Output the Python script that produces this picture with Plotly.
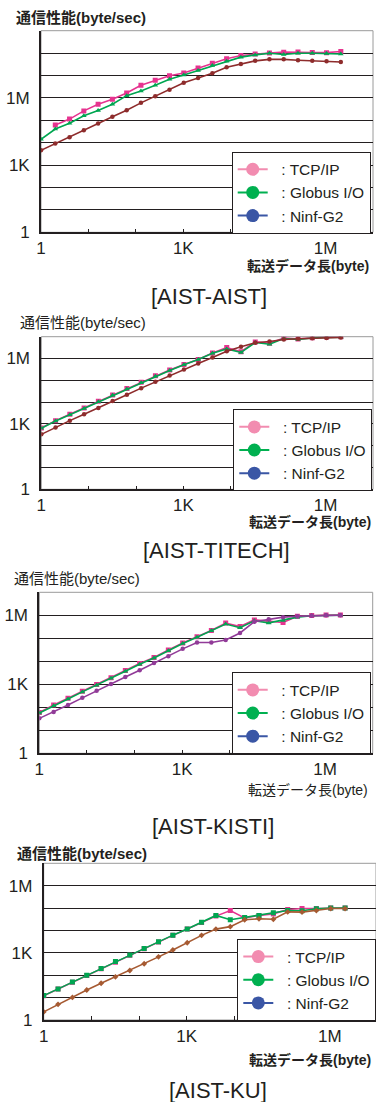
import plotly.graph_objects as go

# ---------------- data ----------------
sizes = [1, 2, 4, 8, 16, 32, 64, 128, 256, 512, 1024, 2048, 4096, 8192,
         16384, 32768, 65536, 131072, 262144, 524288, 1048576, 2097152]

# [AIST-AIST]  (TCP/IP starts at 2 bytes)
aist_tcp = [6.1e4, 1.13e5, 2.63e5, 5.25e5, 8.7e5, 1.66e6, 3.63e6, 6.1e6, 9.8e6,
            1.29e7, 2.14e7, 3.55e7, 5.6e7, 7.8e7, 9.1e7, 1.0e8, 1.1e8, 1.12e8,
            1.07e8, 1.05e8, 1.17e8]
aist_globus = [1.41e4, 4.07e4, 7.4e4, 1.58e5, 2.75e5, 5.25e5, 1.26e6, 2.04e6,
               3.63e6, 6.76e6, 1.05e7, 1.66e7, 2.82e7, 4.37e7, 6.6e7, 8.3e7,
               9.8e7, 8.7e7, 9.8e7, 9.8e7, 9.55e7, 9.1e7]
aist_ninf = [4.57e3, 9.3e3, 1.74e4, 3.63e4, 7.2e4, 1.45e5, 2.82e5, 6.0e5,
             1.17e6, 2.34e6, 4.7e6, 7.8e6, 1.26e7, 2.34e7, 3.3e7, 4.5e7,
             5.25e7, 5.25e7, 4.8e7, 4.5e7, 4.3e7, 4.0e7]

# [AIST-TITECH]
titech_tcp = [646, 1413, 2750, 5370, 1.1e4, 2.14e4, 4.17e4, 8.1e4, 1.62e5,
              2.95e5, 5.25e5, 9.1e5, 1.78e6, 3.16e6, 2.04e6, 5.75e6, 5.0e6,
              8.7e6, 7.9e6, 8.9e6, 9.8e6, 1.0e7]
titech_globus = [631, 1349, 2630, 5130, 1.05e4, 2.04e4, 3.98e4, 7.76e4, 1.55e5,
                 2.82e5, 5.13e5, 8.9e5, 1.74e6, 2.75e6, 1.9e6, 5.4e6, 4.5e6,
                 8.3e6, 7.4e6, 8.7e6, 9.3e6, 9.5e6]
titech_ninf = [331, 692, 1413, 2750, 5370, 1.12e4, 2.19e4, 4.37e4, 8.5e4,
               1.66e5, 3.16e5, 5.9e5, 1.12e6, 2.14e6, 3.47e6, 5.25e6, 6.0e6,
               7.4e6, 8.1e6, 8.5e6, 8.7e6, 9.3e6]

# [AIST-KISTI]
kisti_tcp = [59, 126, 245, 501, 977, 1950, 3980, 7940, 1.48e4, 3.09e4, 6.3e4,
             1.17e5, 2.19e5, 4.57e5, 3.24e5, 6.3e5, 5.4e5, 4.9e5, 9.1e5,
             9.8e5, 1.02e6, 1.02e6]
kisti_globus = [56, 117, 229, 468, 912, 1820, 3720, 7410, 1.38e4, 2.88e4,
                5.9e4, 1.1e5, 2.14e5, 4.17e5, 2.88e5, 5.75e5, 4.68e5, 6.0e5,
                8.3e5, 9.5e5, 1.0e6, 1.0e6]
kisti_ninf = [33, 63, 126, 257, 525, 1020, 2090, 4070, 8510, 1.66e4, 3.47e4,
              6.6e4, 6.6e4, 8.5e4, 1.7e5, 5.25e5, 6.76e5, 8.3e5, 9.1e5, 9.5e5,
              1.0e6, 1.0e6]

# [AIST-KU]
ku_tcp = [12, 24, 49, 98, 195, 380, 776, 1510, 3020, 6030, 1.15e4, 2.29e4,
          4.37e4, 7.76e4, 3.63e4, 4.68e4, 5.5e4, 8.7e4, 9.5e4, 9.5e4, 1.0e5,
          1.0e5]
ku_globus = [12.3, 24.5, 50, 100, 200, 407, 794, 1550, 3090, 6170, 1.17e4,
             2.34e4, 4.68e4, 3.02e4, 3.8e4, 4.68e4, 6.17e4, 7.76e4, 7.59e4,
             9.3e4, 1.0e5, 1.0e5]
ku_ninf = [2.3, 5.0, 10.2, 21.9, 43.7, 85, 162, 324, 661, 1350, 2820, 6030,
           1.15e4, 1.48e4, 3.02e4, 3.31e4, 3.16e4, 6.76e4, 6.6e4, 7.76e4,
           9.5e4, 9.5e4]

panel_titles = ["[AIST-AIST]", "[AIST-TITECH]", "[AIST-KISTI]", "[AIST-KU]"]
series_names = ["\u00a0\u00a0: TCP/IP", "\u00a0\u00a0: Globus I/O", "\u00a0\u00a0: Ninf-G2"]
y_label = "通信性能(byte/sec)"
x_label = "転送データ長(byte)"
x_tick_vals = [1, 10, 100, 1e3, 1e4, 1e5, 1e6, 1e7]
x_tick_text = ["1", "", "", "1K", "", "", "1M", ""]
y_tick_vals = [1, 10, 100, 1e3, 1e4, 1e5, 1e6, 1e7, 1e8, 1e9]
y_tick_text = ["1", "", "", "1K", "", "", "1M", "", "", ""]

# ---------------- layout helpers ----------------
W, H = 376, 1102
def px(x):
    return x / W
def py(y):
    return 1 - y / H

FONT = "Liberation Sans, Arial, Noto Sans CJK JP, sans-serif"
PINK, GREEN = "#e6338f", "#00a651"
LEG_COLORS = ["#f28cb0", "#00b050", "#3a56a5"]

panels = [
    dict(x_dom=(41, 373), y_dom=(30.7, 232.3), xr=7.0, yr=9,
         tcp=(sizes[1:], aist_tcp), glob=aist_globus, ninf=aist_ninf,
         ninf_col="#8e2c2c", glob_sym="triangle-up", ninf_sym="circle",
         ylab=(14, 17, True), xlab=(371, 266, True), title=(209, 296),
         leg=(231.7, 151.7)),
    dict(x_dom=(41.3, 373), y_dom=(336.7, 489.3), xr=7.0, yr=7,
         tcp=(sizes, titech_tcp), glob=titech_globus, ninf=titech_ninf,
         ninf_col="#8e2c2c", glob_sym="triangle-up", ninf_sym="circle",
         ylab=(18, 322, False), xlab=(373, 522, True), title=(216, 550),
         leg=(233.3, 409.3)),
    dict(x_dom=(39.3, 372.7), y_dom=(592.3, 753.3), xr=7.0, yr=7,
         tcp=(sizes, kisti_tcp), glob=kisti_globus, ninf=kisti_ninf,
         ninf_col="#913b98", glob_sym="triangle-up", ninf_sym="circle",
         ylab=(12, 578, False), xlab=(370, 790, False), title=(213, 826),
         leg=(231.7, 672.3)),
    dict(x_dom=(43.7, 376), y_dom=(863.3, 1020), xr=6.97, yr=7,
         tcp=(sizes, ku_tcp), glob=ku_globus, ninf=ku_ninf,
         ninf_col="#a65a32", glob_sym="square", ninf_sym="diamond",
         ylab=(15, 853, True), xlab=(373, 1060, True), title=(218, 1090),
         leg=(237.3, 939)),
]

fig = go.Figure()
layout = dict(width=W, height=H, margin=dict(l=0, r=0, t=0, b=0, autoexpand=False),
              paper_bgcolor="white", plot_bgcolor="white",
              font=dict(family=FONT, color="#231f20"), showlegend=True)
annotations, shapes = [], []

for i, p in enumerate(panels):
    n = i + 1
    xa = "x" if n == 1 else f"x{n}"
    ya = "y" if n == 1 else f"y{n}"
    leg = "legend" if n == 1 else f"legend{n}"

    # data traces
    fig.add_trace(go.Scatter(x=p["tcp"][0], y=p["tcp"][1], mode="lines+markers",
                             line=dict(color=PINK, width=1.6),
                             marker=dict(symbol="square", size=5, color=PINK),
                             xaxis=xa, yaxis=ya, showlegend=False))
    fig.add_trace(go.Scatter(x=sizes, y=p["glob"], mode="lines+markers",
                             line=dict(color=GREEN, width=1.6),
                             marker=dict(symbol=p["glob_sym"], size=5, color=GREEN),
                             xaxis=xa, yaxis=ya, showlegend=False))
    fig.add_trace(go.Scatter(x=sizes, y=p["ninf"], mode="lines+markers",
                             line=dict(color=p["ninf_col"], width=1.6),
                             marker=dict(symbol=p["ninf_sym"], size=4.5, color=p["ninf_col"]),
                             xaxis=xa, yaxis=ya, showlegend=False))
    # legend entries
    for name, col in zip(series_names, LEG_COLORS):
        fig.add_trace(go.Scatter(x=[None], y=[None], mode="lines+markers", name=name,
                                 line=dict(color=col, width=2),
                                 marker=dict(symbol="circle", size=13, color=col),
                                 xaxis=xa, yaxis=ya, legend=leg))

    axkey_x = "xaxis" if n == 1 else f"xaxis{n}"
    axkey_y = "yaxis" if n == 1 else f"yaxis{n}"
    layout[axkey_x] = dict(type="log", range=[0, p["xr"]], automargin=False,
                           domain=[px(p["x_dom"][0]), px(p["x_dom"][1])],
                           anchor=ya, showgrid=False, zeroline=False,
                           showline=True, linecolor="#231f20", linewidth=1.5,
                           ticks="inside", ticklen=4, tickcolor="#231f20", tickwidth=1,
                           tickvals=x_tick_vals, ticktext=x_tick_text,
                           tickfont=dict(size=17, family=FONT, color="#231f20"),
                           ticklabelstandoff=0)
    layout[axkey_y] = dict(type="log", range=[0, p["yr"]], automargin=False,
                           domain=[py(p["y_dom"][1]), py(p["y_dom"][0])],
                           anchor=xa, showgrid=True, gridcolor="#231f20", gridwidth=1.4,
                           zeroline=False, showline=True, linecolor="#231f20",
                           linewidth=1.8, ticks="",
                           tickvals=y_tick_vals, ticktext=y_tick_text,
                           tickfont=dict(size=17, family=FONT, color="#231f20"),
                           ticklabelstandoff=6)
    layout[leg] = dict(x=px(p["leg"][0]), y=py(p["leg"][1]), xanchor="left",
                       yanchor="top", bgcolor="white", bordercolor="#231f20",
                       borderwidth=1, font=dict(size=15.5, family=FONT, color="#231f20"),
                       tracegroupgap=0, itemwidth=30)

    # top/right light border
    shapes.append(dict(type="rect", xref=f"{xa} domain", yref=f"{ya} domain",
                       x0=0, x1=1, y0=0, y1=1, line=dict(color="#9a9a9a", width=1),
                       layer="below"))

    yl = p["ylab"]
    annotations.append(dict(text=(f"<b>{y_label}</b>" if yl[2] else y_label),
                            x=px(yl[0]), y=py(yl[1]), xref="paper", yref="paper",
                            xanchor="left", yanchor="middle", showarrow=False,
                            font=dict(size=15, family=FONT, color="#231f20")))
    xl = p["xlab"]
    annotations.append(dict(text=(f"<b>{x_label}</b>" if xl[2] else x_label),
                            x=px(xl[0]), y=py(xl[1]), xref="paper", yref="paper",
                            xanchor="right", yanchor="middle", showarrow=False,
                            font=dict(size=14, family=FONT, color="#231f20")))
    tt = p["title"]
    annotations.append(dict(text=panel_titles[i], x=px(tt[0]), y=py(tt[1]),
                            xref="paper", yref="paper", xanchor="center",
                            yanchor="middle", showarrow=False,
                            font=dict(size=22, family=FONT, color="#231f20")))

layout["annotations"] = annotations
layout["shapes"] = shapes
fig.update_layout(**layout)
fig.write_html("out.html", config={"displayModeBar": False},
               post_script="document.body.style.margin='0px';")
